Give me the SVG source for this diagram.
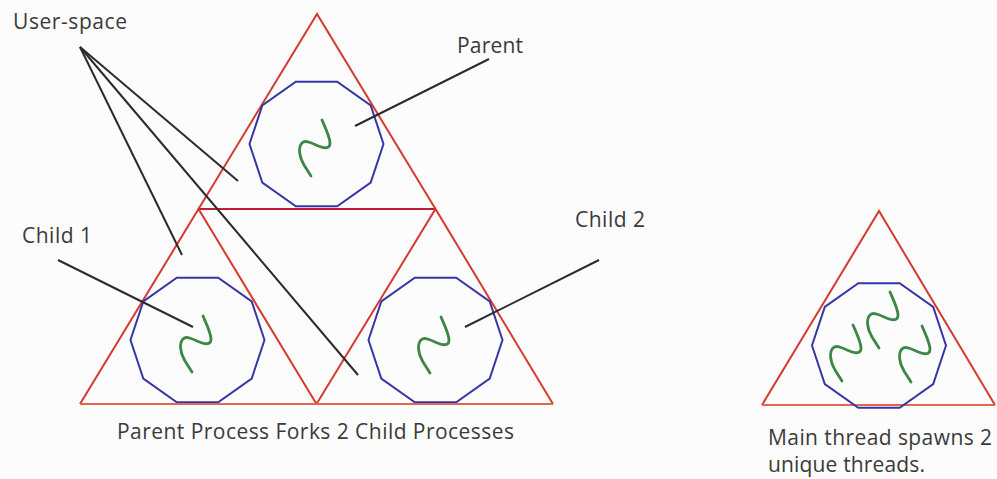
<svg xmlns="http://www.w3.org/2000/svg" xmlns:xlink="http://www.w3.org/1999/xlink" width="997" height="479" viewBox="0 0 997 479">
  <style>
    .edge { fill: none; stroke: #d63a2e; stroke-width: 2; stroke-linejoin: miter; }
    .mid { fill: none; stroke: #c2183a; stroke-width: 2; }
    .base { fill: none; stroke: #e0694c; stroke-width: 2; }
    .proc { fill: none; stroke: #3636a6; stroke-width: 2; }
    .thread { fill: none; stroke: #3b8746; stroke-width: 2.8; stroke-linecap: round; stroke-linejoin: round; }
    .leader { stroke: #2b2b2b; stroke-width: 2; fill: none; }
    .label { font-family: "Open Sans", "Noto Sans", sans-serif; font-size: 21px; fill: #3a3a3a; }
  </style>
  <defs>
    <!-- flat-topped decagon used for every process boundary -->
    <polygon id="deca" points="67,0 54.2,38.5 20.7,62.3 -20.7,62.3 -54.2,38.5 -67,0 -54.2,-38.5 -20.7,-62.3 20.7,-62.3 54.2,-38.5"/>
    <!-- single thread squiggle -->
    <path id="squiggle" d="M 7,-27 C 10,-20 15,-10 15,-4 C 15,3 8,1 1,-2 C -5,-5 -10,-7 -13,-4 C -17,0 -16,10 -11,18 L -4,29"/>
  </defs>

  <rect width="997" height="479" fill="#fcfcfc"/>

  <!-- multi-process tree -->
  <g id="parent">
    <polyline class="edge" points="198.5,209 317,14 435.5,209"/>
    <line class="mid" x1="198.5" y1="209" x2="435.5" y2="209"/>
    <use href="#deca" xlink:href="#deca" class="proc" x="316.5" y="144"/>
    <use href="#squiggle" xlink:href="#squiggle" class="thread" x="315" y="147"/>
  </g>

  <g id="child1">
    <polyline class="edge" points="80,404 198.5,209 316.5,404"/>
    <use href="#deca" xlink:href="#deca" class="proc" x="197.5" y="340"/>
    <use href="#squiggle" xlink:href="#squiggle" class="thread" x="196" y="343"/>
  </g>

  <g id="child2">
    <polyline class="edge" points="316.5,404 435.5,209 553,404"/>
    <use href="#deca" xlink:href="#deca" class="proc" x="435.5" y="340"/>
    <use href="#squiggle" xlink:href="#squiggle" class="thread" x="434" y="344"/>
  </g>

  <line id="tree-base" class="base" x1="80" y1="404" x2="553" y2="404"/>

  <!-- single process with three threads -->
  <g id="threaded-process">
    <polyline class="edge" points="762,405 879,211 995,405"/>
    <line class="base" x1="762" y1="405" x2="995" y2="405"/>
    <use href="#deca" xlink:href="#deca" class="proc" x="879" y="345.5"/>
    <use href="#squiggle" xlink:href="#squiggle" class="thread" x="846" y="352"/>
    <use href="#squiggle" xlink:href="#squiggle" class="thread" x="883" y="319"/>
    <use href="#squiggle" xlink:href="#squiggle" class="thread" x="915" y="353"/>
  </g>

  <!-- leader lines from labels -->
  <g id="connectors">
    <line class="leader" x1="80" y1="47" x2="238" y2="181"/>
    <line class="leader" x1="80" y1="47" x2="182" y2="255"/>
    <line class="leader" x1="80" y1="47" x2="358" y2="375"/>
    <line class="leader" x1="489" y1="59" x2="355" y2="126"/>
    <line class="leader" x1="58" y1="260" x2="193" y2="327"/>
    <line class="leader" x1="599" y1="260" x2="465" y2="327"/>
  </g>

  <g id="labels">
    <text class="label" x="13" y="29" textLength="114">User-space</text>
    <text class="label" x="457" y="53" textLength="66">Parent</text>
    <text class="label" x="22" y="243" textLength="70">Child 1</text>
    <text class="label" x="575" y="227" textLength="70">Child 2</text>
    <text class="label" x="117" y="439" textLength="397">Parent Process Forks 2 Child Processes</text>
    <text class="label" x="768" y="445" textLength="224">Main thread spawns 2</text>
    <text class="label" x="768" y="472" textLength="157">unique threads.</text>
  </g>
</svg>
